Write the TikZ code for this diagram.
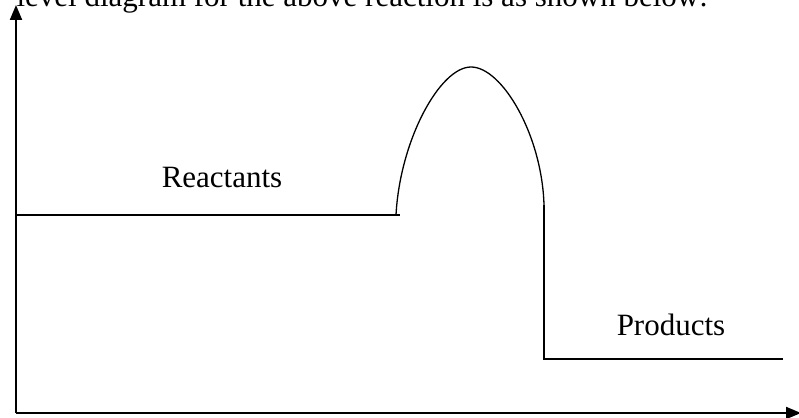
\documentclass[tikz,border=0pt]{standalone}
\usepackage{fontspec}
\setmainfont{Liberation Serif}
\usetikzlibrary{arrows.meta, calc}

\tikzset{
  axis/.style={line width=2pt, -{Triangle[length=15pt,width=12pt]}},
  level/.style={line width=2pt},
  hump/.style={line width=1.3pt},
  lbl/.style={anchor=base, inner sep=0pt, font=\fontsize{31}{36}\selectfont}
}

\begin{document}
\begin{tikzpicture}[x=1pt, y=1pt]
\clip (0,0) rectangle (799,417);

% axes
\coordinate (origin) at (16,4);
\coordinate (ytip) at (16,412);
\coordinate (xtip) at (801,4);
\draw [axis] (origin) -- (ytip);
\draw [axis] (origin) -- (xtip);

% energy levels
\coordinate (rstart) at (16,202);
\coordinate (rend) at (400,202);
\coordinate (hleft) at (396,202);
\coordinate (peak) at (471,350);
\coordinate (hright) at (544,212);
\coordinate (pstart) at (544,58);
\coordinate (pend) at (783,58);

\draw [level] (rstart) -- (rend);
\draw [hump] (hleft) .. controls (400,277) and (440,350) .. (peak)
  .. controls (502,350) and (542,282) .. (hright);
\draw [level] (hright) -- (pstart) -- (pend);

% labels
\node (heading) [lbl, anchor=base east] at (708,410) {level diagram for the above reaction is as shown below:};
\node (reactants) [lbl] at (222,229) {Reactants};
\node (products) [lbl] at (671,81) {Products};
\end{tikzpicture}
\end{document}
